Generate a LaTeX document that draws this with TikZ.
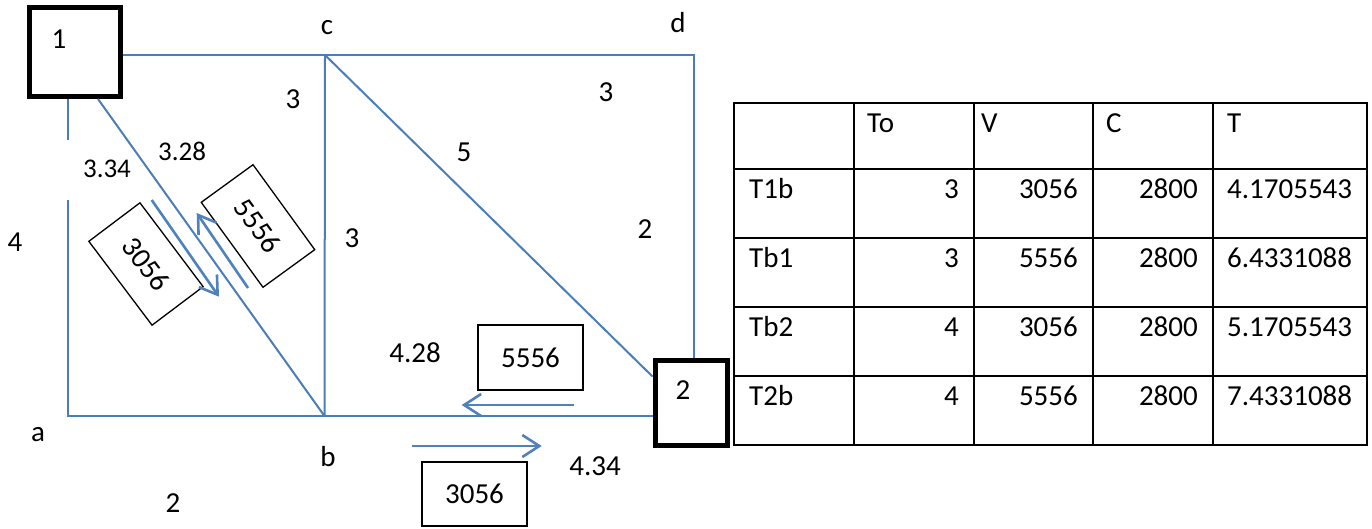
\documentclass[tikz,border=0pt]{standalone}
\usepackage{fontspec}
\setmainfont{Carlito}
\usetikzlibrary{arrows.meta,calc}
\definecolor{edgeblue}{HTML}{4A7EBB}
\definecolor{arrowblue}{HTML}{4F81BD}
\begin{document}
\begin{tikzpicture}[x=1pt,y=-1pt,
  every node/.style={font=\fontsize{29}{34}\selectfont, inner sep=0pt},
  smalltext/.style={font=\fontsize{27}{32}\selectfont},
  edge/.style={edgeblue, line width=2pt},
  flow/.style={arrowblue, line width=2.6pt, -{Straight Barb[length=17pt,width=22pt]}},
  station/.style={draw, line width=5pt, minimum width=#1},
  vol/.style={draw, line width=1.3pt, minimum width=105pt, minimum height=64pt},
  grid/.style={line width=2pt}]
\useasboundingbox (0,0) rectangle (1372,529);

% stations
\node[station=91pt, minimum height=89pt] (box1) at (75,52) {};
\node (n1) at (59,39) {1};
\node[station=72pt, minimum height=85pt] (box2) at (691,402.5) {};
\node (n2) at (683,390) {2};

% network vertices
\coordinate (a) at (67.7,416);
\coordinate (b) at (324.5,416);
\coordinate (c) at (325,55);
\coordinate (d) at (694,55);
\coordinate (g1) at (67.7,140);
\coordinate (g2) at (67.7,200);

% links
\draw[edge] (box1.east |- c) -- (c) -- (d) -- (d |- box2.north);
\draw[edge] (c) -- (b);
\draw[edge] (c) -- ([yshift=-19pt]box2.north west);
\draw[edge] (box1.south -| a) -- (g1);
\draw[edge] (g2) -- (a) -- (b) -- (box2.west |- a);
\draw[edge] ([xshift=23pt]box1.south) -- (b);

% vertex names
\node (la) at (38,435) {a};
\node (lb) at (328,457) {b};
\node (lc) at (327,28) {c};
\node (ld) at (678,23) {d};

% link weights
\node (w1) at (293,99) {3};
\node (w2) at (606,92) {3};
\node (w3) at (464,152) {5};
\node (w4) at (645,229) {2};
\node (w5) at (352,238) {3};
\node[smalltext] (w6) at (182,151) {3.28};
\node[smalltext] (w7) at (107,169) {3.34};
\node (w8) at (15,242) {4};
\node (w9) at (415,353) {4.28};
\node (w10) at (595,466) {4.34};
\node (w11) at (173,503) {2};

% flow volumes
\node[vol, rotate=-53] (v1) at (146,264) {3056};
\node[vol, rotate=-54] (v2) at (258,226) {5556};
\node[vol, minimum height=65pt] (v3) at (530.5,357.5) {5556};
\node[vol] (v4) at (474.5,494) {3056};

% flow directions
\coordinate (f1s) at (151.7,200);
\coordinate (f1e) at (219,296.7);
\coordinate (f2s) at (248,288);
\coordinate (f2e) at (196.7,213);
\coordinate (f3s) at (574,405);
\coordinate (f3e) at (461.7,405);
\coordinate (f4s) at (412,446);
\coordinate (f4e) at (541.7,446);
\draw[flow] (f1s) -- (f1e);
\draw[flow] (f2s) -- (f2e);
\draw[flow] (f3s) -- (f3e);
\draw[flow] (f4s) -- (f4e);

% travel time table
\draw[grid] (734,103) rectangle (1367,445);
\foreach \xx in {854,974,1093,1213} \draw[grid] (\xx,103) -- (\xx,445);
\foreach \yy in {169,238,307,376} \draw[grid] (734,\yy) -- (1367,\yy);
\node[anchor=base west] (hTo) at (867,132.5) {To};
\node[anchor=base west] (hV) at (981,132.5) {V};
\node[anchor=base west] (hC) at (1106,132.5) {C};
\node[anchor=base west] (hT) at (1227,132.5) {T};
\foreach \nm/\to/\v/\t [count=\i] in
  {T1b/3/3056/4.1705543, Tb1/3/5556/6.4331088, Tb2/4/3056/5.1705543, T2b/4/5556/7.4331088} {
  \node[anchor=base west] (name\i) at (749,{129.5+69*\i}) {\nm};
  \node[anchor=base east] (to\i) at (959,{129.5+69*\i}) {\to};
  \node[anchor=base east] (vv\i) at (1078,{129.5+69*\i}) {\v};
  \node[anchor=base east] (cc\i) at (1198,{129.5+69*\i}) {2800};
  \node[anchor=base west] (tt\i) at (1227,{129.5+69*\i}) {\t};
}
\end{tikzpicture}
\end{document}
